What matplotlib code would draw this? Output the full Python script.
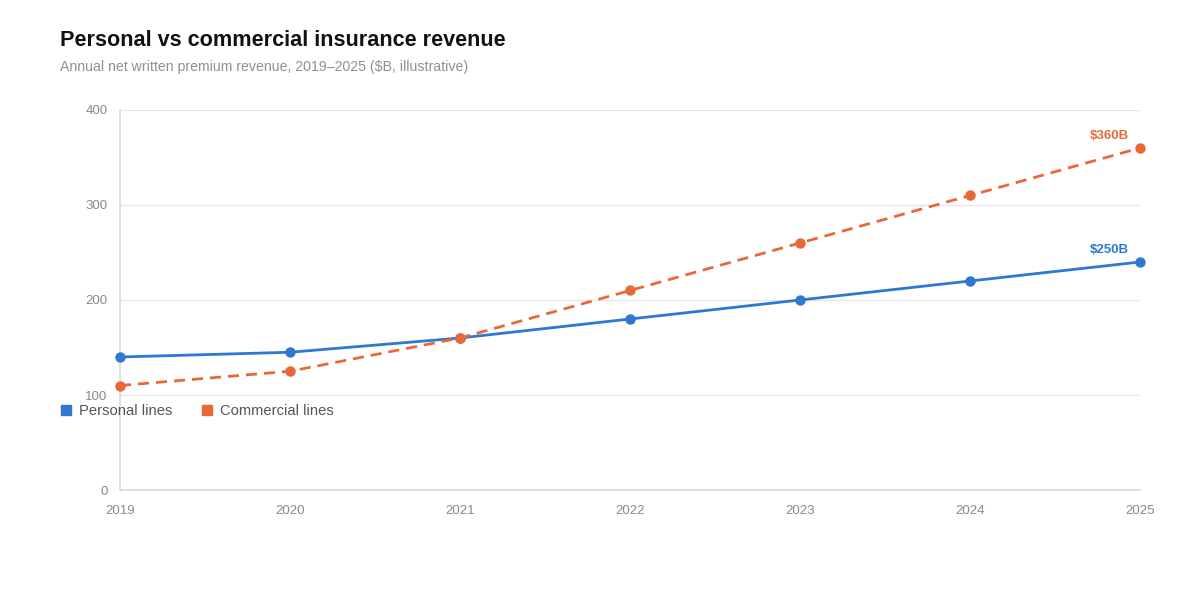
import matplotlib.pyplot as plt
from matplotlib.lines import Line2D

plt.rcParams['font.family'] = ['Liberation Sans', 'DejaVu Sans']

years = [2019, 2020, 2021, 2022, 2023, 2024, 2025]
personal = [140, 145, 160, 180, 200, 220, 240]
commercial = [110, 125, 160, 210, 260, 310, 360]
series_names = ["Personal lines", "Commercial lines"]
end_labels = ["$250B", "$360B"]

blue = "#2e78d2"
orange = "#e8683a"

fig = plt.figure(figsize=(12, 6), dpi=100)
ax = fig.add_axes([0.1, 0.1833, 0.85, 0.6334])

ax.plot(years, personal, color=blue, lw=2, marker="o", ms=6.5,
        clip_on=False, zorder=3)
ax.plot(years, commercial, color=orange, lw=2, ls=(0, (4, 2.5)), marker="o",
        ms=6.5, clip_on=False, zorder=3)

ax.annotate(end_labels[0], (years[-1], personal[-1]), xytext=(-8, 4.5),
            textcoords="offset points", ha="right", va="bottom",
            color=blue, fontsize=9.5, fontweight="bold")
ax.annotate(end_labels[1], (years[-1], commercial[-1]), xytext=(-8, 4.5),
            textcoords="offset points", ha="right", va="bottom",
            color=orange, fontsize=9.5, fontweight="bold")

ax.set_xlim(years[0], years[-1])
ax.set_ylim(0, 400)
ax.set_xticks(years)
ax.set_yticks([0, 100, 200, 300, 400])
ax.grid(axis="y", color="#e6e6e6", lw=1)
ax.set_axisbelow(True)
for s in ["top", "right"]:
    ax.spines[s].set_visible(False)
for s in ["left", "bottom"]:
    ax.spines[s].set_color("#d9d9d9")
    ax.spines[s].set_linewidth(1.2)
ax.tick_params(length=0, colors="#8a8a8a", labelsize=9.5)
ax.tick_params(axis="x", pad=11)
ax.tick_params(axis="y", pad=9)

fig.text(0.05, 0.932, "Personal vs commercial insurance revenue",
         fontsize=15.6, fontweight="bold", color="#111111", va="center")
fig.text(0.05, 0.888, "Annual net written premium revenue, 2019\u20132025 ($B, illustrative)",
         fontsize=10.2, color="#909090", va="center")

handles = [Line2D([], [], ls="", marker="s", ms=7.5, color=c) for c in (blue, orange)]
fig.legend(handles, series_names, loc="center left", bbox_to_anchor=(0.0385, 0.315),
           ncol=2, frameon=False, fontsize=10.6, labelcolor="#555555",
           handletextpad=0.45, columnspacing=1.85, handlelength=0.9)

fig.savefig("out.png", dpi=100)
